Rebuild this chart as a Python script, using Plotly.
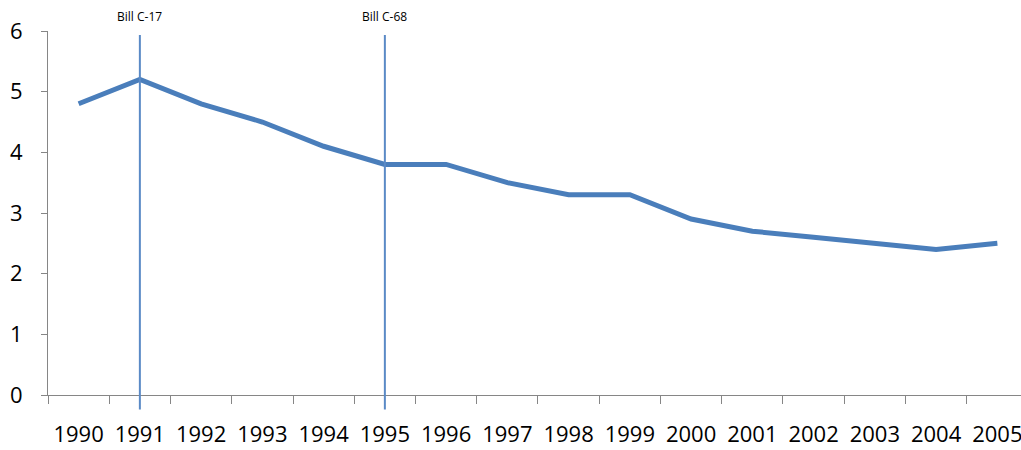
import plotly.graph_objects as go

years = ["1990", "1991", "1992", "1993", "1994", "1995", "1996", "1997",
         "1998", "1999", "2000", "2001", "2002", "2003", "2004", "2005"]
values = [4.8, 5.2, 4.8, 4.5, 4.1, 3.8, 3.8, 3.5, 3.3, 3.3, 2.9, 2.7, 2.6, 2.5, 2.4, 2.5]
bill_years = ["1991", "1995"]
bill_labels = ["Bill C-17", "Bill C-68"]

axis_color = "#868686"
line_color = "#4A7EBB"

fig = go.Figure()
fig.add_trace(go.Scatter(x=years, y=values, mode="lines",
                         line=dict(color=line_color, width=5),
                         showlegend=False, hoverinfo="skip"))

for yr, lab in zip(bill_years, bill_labels):
    idx = years.index(yr)
    fig.add_shape(type="line", xref="x", yref="paper", x0=idx, x1=idx,
                  y0=-0.04, y1=0.989, line=dict(color="#5A8AC6", width=2))
    fig.add_annotation(x=idx, y=1.04, xref="x", yref="paper", text=lab,
                       yanchor="middle", xanchor="center",
                       showarrow=False, font=dict(family="Open Sans", size=12, color="black"))

fig.update_layout(
    width=1021, height=450,
    margin=dict(l=48, r=0, t=31, b=55),
    plot_bgcolor="white", paper_bgcolor="white",
    font=dict(family="Open Sans", color="black"),
    xaxis=dict(type="category", range=[-0.5, 15.386], tickson="boundaries",
               showline=True, linecolor=axis_color, linewidth=1,
               ticks="outside", ticklen=8, tickcolor=axis_color, tickangle=0,
               showgrid=False, zeroline=False, automargin=False,
               tickfont=dict(size=22, family="Open Sans"), ticklabelstandoff=20),
    yaxis=dict(range=[0, 6], tickvals=[0, 1, 2, 3, 4, 5, 6],
               showline=True, linecolor=axis_color, linewidth=1,
               ticks="outside", ticklen=6, tickcolor=axis_color,
               showgrid=False, zeroline=False, automargin=False,
               tickfont=dict(size=22, family="Open Sans"), ticklabelstandoff=14),
)

fig.write_html("out.html", config={"displayModeBar": False},
               post_script="document.body.style.margin='0';")
